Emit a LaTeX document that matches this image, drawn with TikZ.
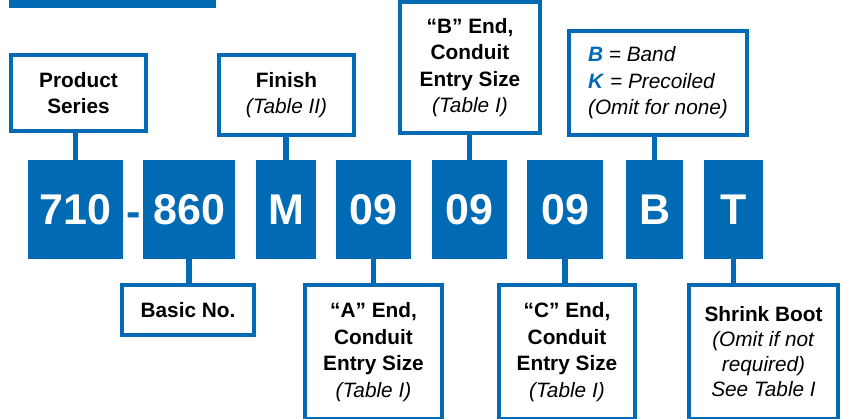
\documentclass[tikz,border=0pt]{standalone}
\usepackage{fontspec}
\setmainfont{Liberation Sans}
\usetikzlibrary{positioning}
\definecolor{codeblue}{RGB}{0,106,180}
\tikzset{codebox/.style={fill=codeblue,text=white,font=\fontsize{43}{43}\selectfont\bfseries,minimum height=99pt,inner sep=0pt,anchor=north west}}
\tikzset{infobox/.style={draw=codeblue,line width=4pt,fill=white,align=center,inner sep=0pt,font=\fontsize{20.8}{26.5}\selectfont}}
\newcommand{\bk}[1]{{\color{codeblue}\textbf{\textit{#1}}}}

\begin{document}
\begin{tikzpicture}[
		x = 1pt, y = -1pt, % pixel grid
		link/.style = {draw=codeblue, line width=5.5pt}, % connector style
		]
		\useasboundingbox (0,0) rectangle (843,418);
		
		% title bar
		\fill[codeblue] (9,-2) rectangle (216,8);
		
		% part number
		\node[codebox, minimum width=95pt] (c710) at (28,160) {710};
		\node[text=codeblue, font=\fontsize{43}{43}\selectfont\bfseries, inner sep=0pt, anchor=base] (dash) at (134,226) {-};
		\node[codebox, minimum width=92pt] (c860) at (143,160) {860};
		\node[codebox, minimum width=60pt] (fin) at (256,160) {M};
		\node[codebox, minimum width=75pt] (aa) at (336,160) {09};
		\node[codebox, minimum width=75pt] (bb) at (432,160) {09};
		\node[codebox, minimum width=76pt] (cc) at (527,160) {09};
		\node[codebox, minimum width=57pt] (band) at (626,160) {B};
		\node[codebox, minimum width=59pt] (boot) at (704,160) {T};
		
		% upper labels
		\node[infobox, minimum width=135pt, minimum height=76pt] (series) at (78.5,93) {\textbf{Product}\\\textbf{Series}};
		\node[infobox, minimum width=135pt, minimum height=80pt] (finish) at (286.5,95) {\textbf{Finish}\\\textit{(Table II)}};
		\node[infobox, minimum width=140pt, minimum height=131pt] (bend) at (470,67.5) {\textbf{“B” End,}\\\textbf{Conduit}\\\textbf{Entry Size}\\\textit{(Table I)}};
		\node[infobox, minimum width=178pt, minimum height=104pt, align=left] (bandk) at (658,83) {\bk{B} \textit{= Band}\\\bk{K} \textit{= Precoiled}\\\textit{(Omit for none)}};
		
		% lower labels
		\node[infobox, minimum width=132pt, minimum height=50pt] (basic) at (188,310) {\textbf{Basic No.}};
		\node[infobox, minimum width=137pt, minimum height=134pt] (aend) at (373.5,352) {\textbf{“A” End,}\\\textbf{Conduit}\\\textbf{Entry Size}\\\textit{(Table I)}};
		\node[infobox, minimum width=136pt, minimum height=134pt] (cend) at (567,352) {\textbf{“C” End,}\\\textbf{Conduit}\\\textbf{Entry Size}\\\textit{(Table I)}};
		\node[infobox, minimum width=149pt, minimum height=134pt, font=\fontsize{20.8}{25}\selectfont] (shrink) at (763.5,352) {\textbf{Shrink Boot}\\\textit{(Omit if not}\\\textit{required)}\\\textit{See Table I}};
		
		% Up
		\path[link] (c710.north) edge (c710.north |- series.south);
		\path[link] (fin.north) edge (fin.north |- finish.south);
		\path[link] (bb.north) edge (bb.north |- bend.south);
		\path[link] (band.north) edge (band.north |- bandk.south);
		
		% Down
		\path[link] (c860.south) edge (c860.south |- basic.north);
		\path[link] (aa.south) edge (aa.south |- aend.north);
		\path[link] (cc.south) edge (cc.south |- cend.north);
		\path[link] (boot.south) edge (boot.south |- shrink.north);
		\end{tikzpicture}
\end{document}
